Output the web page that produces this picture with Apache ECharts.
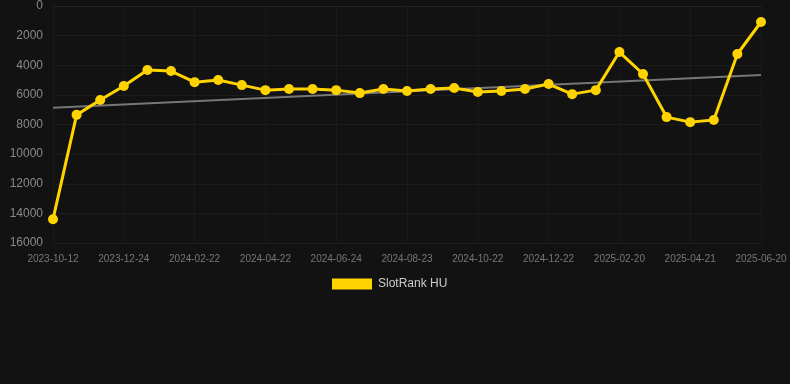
<!DOCTYPE html>
<html>
<head>
<meta charset="utf-8">
<script src="https://cdn.jsdelivr.net/npm/echarts@6/dist/echarts.min.js"></script>
<style>
html,body{margin:0;padding:0;background:#121212;}
#chart{width:790px;height:384px;}
</style>
</head>
<body>
<div id="chart"></div>
<script>
var dates = [
  '2023-10-12','2023-11-05','2023-11-30','2023-12-24','2024-01-13','2024-02-02','2024-02-22','2024-03-13','2024-04-02','2024-04-22',
  '2024-05-13','2024-06-03','2024-06-24','2024-07-14','2024-08-03','2024-08-23','2024-09-12','2024-10-02','2024-10-22','2024-11-11',
  '2024-12-02','2024-12-22','2025-01-11','2025-01-31','2025-02-20','2025-03-12','2025-04-01','2025-04-21','2025-05-11','2025-05-31',
  '2025-06-20'
];
var rankValues = [
  14400, 7350, 6350, 5400, 4320, 4390, 5140, 5000, 5340, 5680,
  5600, 5600, 5680, 5880, 5600, 5740, 5600, 5540, 5810, 5740,
  5600, 5270, 5950, 5680, 3110, 4590, 7500, 7840, 7700, 3240,
  1080
];
var trendStart = 6870;
var trendEnd = 4660;
var yTicks = [0, 2000, 4000, 6000, 8000, 10000, 12000, 14000, 16000];

var trendData = dates.map(function (d, i) {
  if (i === 0) return trendStart;
  if (i === dates.length - 1) return trendEnd;
  return null;
});

var chart = echarts.init(document.getElementById('chart'));
chart.setOption({
  backgroundColor: '#121212',
  animation: false,
  grid: { left: 53, right: 29, top: 6, bottom: 141, containLabel: false },
  legend: {
    top: 278,
    left: 332,
    data: [{ name: 'SlotRank HU', icon: 'rect' }],
    itemWidth: 40,
    itemHeight: 11,
    itemGap: 10,
    padding: 0,
    textStyle: { color: '#cccccc', fontSize: 12, padding: [0, 0, 0, 1], fontFamily: 'Arial, Liberation Sans, sans-serif' }
  },
  xAxis: {
    type: 'category',
    data: dates,
    boundaryGap: false,
    axisLine: { show: true, lineStyle: { color: '#232323' } },
    axisTick: { show: false },
    axisLabel: {
      interval: 2,
      color: '#777777',
      fontSize: 10,
      margin: 11,
      fontFamily: 'Arial, Liberation Sans, sans-serif'
    },
    splitLine: { show: true, interval: 2, lineStyle: { color: '#1a1a1a', width: 1 } }
  },
  yAxis: {
    type: 'value',
    inverse: true,
    min: yTicks[0],
    max: yTicks[yTicks.length - 1],
    interval: 2000,
    axisLine: { show: false },
    axisTick: { show: false },
    axisLabel: {
      color: '#8a8a8a',
      fontSize: 12,
      margin: 10,
      formatter: function (v) { return String(v); },
      fontFamily: 'Arial, Liberation Sans, sans-serif'
    },
    splitLine: { show: true, lineStyle: { color: '#1c1c1c', width: 1 } }
  },
  series: [
    {
      name: 'Trend',
      type: 'line',
      data: trendData,
      connectNulls: true,
      showSymbol: false,
      symbol: 'none',
      lineStyle: { color: '#777777', width: 2 },
      z: 1
    },
    {
      name: 'SlotRank HU',
      type: 'line',
      data: rankValues,
      symbol: 'circle',
      symbolSize: 10,
      itemStyle: { color: '#FFD300' },
      lineStyle: { color: '#FFD300', width: 3 },
      z: 2
    }
  ]
});
</script>
</body>
</html>
